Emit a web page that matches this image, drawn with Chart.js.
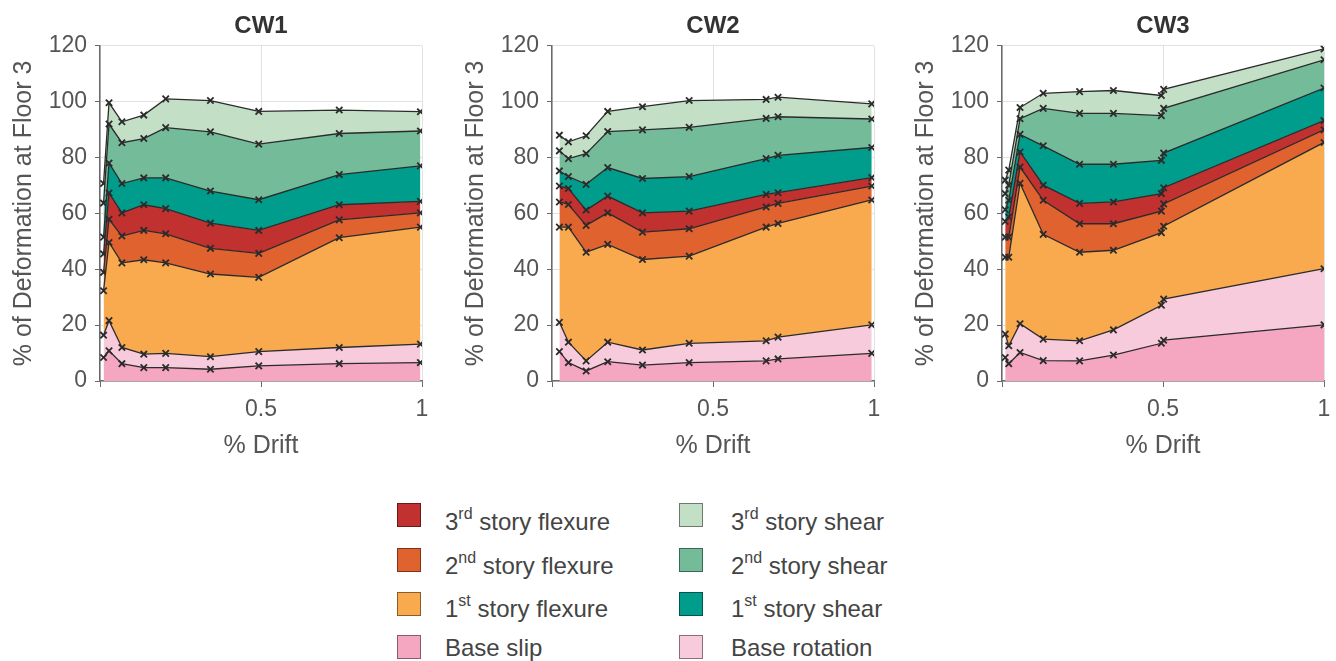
<!DOCTYPE html>
<html>
<head>
<meta charset="utf-8">
<title>Deformation components at Floor 3</title>
<script src="https://cdn.jsdelivr.net/npm/chart.js@4.4.1/dist/chart.umd.min.js"></script>
<style>
  html, body { margin: 0; padding: 0; background: #fff; }
  body { width: 1336px; height: 661px; overflow: hidden; position: relative;
         font-family: "Liberation Sans", Arial, sans-serif; }
  canvas.panel { position: absolute; top: 0; }
  .swatch { position: absolute; width: 24px; height: 24px; box-sizing: border-box;
            border: 1px solid rgba(0,0,0,0.45); }
  .label { position: absolute; font-size: 24px; color: #444; white-space: nowrap;
           line-height: 28px; }
  .label sup { font-size: 16px; line-height: 0; position: relative; top: -2px; }
</style>
</head>
<body>
<canvas class="panel" id="cw1" width="440" height="470" style="left:0px"></canvas>
<canvas class="panel" id="cw2" width="440" height="470" style="left:452px"></canvas>
<canvas class="panel" id="cw3" width="440" height="470" style="left:902px"></canvas>
<div id="legend"></div>

<script>
// Deformation components, bottom of the stack first
const componentNames = [
  'Base slip', 'Base rotation',
  '1st story flexure', '2nd story flexure', '3rd story flexure',
  '1st story shear', '2nd story shear', '3rd story shear'
];
const componentLegendText = [
  'Base slip', 'Base rotation',
  '1<sup>st</sup> story flexure', '2<sup>nd</sup> story flexure', '3<sup>rd</sup> story flexure',
  '1<sup>st</sup> story shear', '2<sup>nd</sup> story shear', '3<sup>rd</sup> story shear'
];
const componentColors = [
  '#f5a6c1', '#f7cbdc',
  '#f9a94e', '#e0622f', '#c0312f',
  '#009c8c', '#74bb9a', '#c3dfc5'
];

// CW1: % drift and contribution of each component (%)
const cw1Drift          = [0.011, 0.028, 0.068, 0.136, 0.204, 0.343, 0.493, 0.743, 0.995];
const cw1BaseSlip       = [8.4, 10.8, 6.2, 4.8, 4.8, 4.2, 5.4, 6.2, 6.6];
const cw1BaseRotation   = [8.0, 10.8, 5.8, 4.8, 5.1, 4.5, 5.1, 5.8, 6.6];
const cw1Flexure1       = [15.9, 28.0, 30.3, 33.8, 32.4, 29.6, 26.6, 39.3, 41.9];
const cw1Flexure2       = [6.6, 8.3, 9.6, 10.5, 10.4, 9.2, 8.6, 6.4, 5.1];
const cw1Flexure3       = [6.6, 9.4, 8.3, 9.2, 9.0, 9.0, 8.2, 5.4, 4.1];
const cw1Shear1         = [6.0, 10.7, 10.5, 9.6, 11.0, 11.5, 11.0, 10.8, 12.7];
const cw1Shear2         = [12.2, 14.0, 14.6, 14.1, 18.0, 21.2, 19.9, 14.7, 12.5];
const cw1Shear3         = [7.0, 7.6, 7.5, 8.4, 10.3, 11.2, 11.7, 8.4, 6.9];

// CW2
const cw2Drift          = [0.023, 0.051, 0.106, 0.173, 0.281, 0.426, 0.665, 0.702, 0.993];
const cw2BaseSlip       = [10.5, 6.6, 3.6, 6.9, 5.7, 6.6, 7.2, 7.9, 9.9];
const cw2BaseRotation   = [10.5, 7.3, 3.6, 7.0, 5.4, 6.9, 7.2, 7.8, 10.2];
const cw2Flexure1       = [34.1, 41.2, 38.9, 35.0, 32.4, 31.2, 40.7, 40.7, 44.7];
const cw2Flexure2       = [9.0, 8.1, 9.6, 11.3, 9.8, 9.8, 7.2, 7.2, 5.0];
const cw2Flexure3       = [5.7, 5.7, 5.5, 6.0, 6.9, 6.3, 4.5, 3.8, 3.0];
const cw2Shear1         = [5.4, 4.3, 9.2, 10.2, 12.3, 12.4, 12.8, 13.4, 10.8];
const cw2Shear2         = [7.2, 6.4, 11.0, 12.9, 17.4, 17.6, 14.4, 13.8, 10.2];
const cw2Shear3         = [5.6, 6.0, 6.4, 7.2, 8.3, 9.6, 6.8, 7.0, 5.4];

// CW3
const cw3Drift          = [0.010, 0.021, 0.056, 0.128, 0.241, 0.346, 0.495, 0.502, 1.0];
const cw3BaseSlip       = [8.4, 6.2, 10.2, 7.3, 7.2, 9.3, 13.5, 14.6, 20.1];
const cw3BaseRotation   = [8.4, 6.4, 10.3, 7.7, 7.2, 9.0, 13.6, 14.7, 20.1];
const cw3Flexure1       = [27.5, 31.7, 50.3, 37.5, 31.7, 28.5, 26.0, 26.1, 45.2];
const cw3Flexure2       = [7.2, 7.2, 5.8, 12.2, 10.2, 9.5, 7.7, 8.0, 4.5];
const cw3Flexure3       = [5.6, 7.2, 5.4, 5.4, 7.3, 7.8, 6.3, 5.8, 3.3];
const cw3Shear1         = [4.2, 6.0, 6.3, 14.1, 14.0, 13.5, 11.9, 12.4, 11.7];
const cw3Shear2         = [5.8, 5.4, 5.6, 13.4, 18.2, 18.2, 16.0, 16.0, 10.1];
const cw3Shear3         = [4.8, 5.4, 4.0, 5.4, 7.8, 8.2, 7.2, 6.8, 3.9];

const yTicks = [0, 20, 40, 60, 80, 100, 120];
const xTicks = [0.5, 1];

const FONT = '"Liberation Sans", Arial, sans-serif';
const INK = '#2b2b2b';
const AXIS = '#6a6a6a';
const TEXT = '#555';

function buildDatasets(drift, components) {
  return components.map((values, k) => ({
    label: componentNames[k],
    data: drift.map((x, i) => ({ x: x, y: values[i] })),
    backgroundColor: componentColors[k],
    borderColor: INK,
    borderWidth: 1.3,
    fill: k === 0 ? 'origin' : '-1',
    pointStyle: 'crossRot',
    pointRadius: 4.5,
    pointBorderWidth: 1.8,
    pointBorderColor: INK,
    pointBackgroundColor: INK,
    tension: 0
  }));
}

function drawPanel(id, title, drift, components) {
  new Chart(document.getElementById(id), {
    type: 'line',
    data: { datasets: buildDatasets(drift, components) },
    options: {
      responsive: false,
      animation: false,
      events: [],
      layout: { padding: { left: 0, right: 18, top: 0, bottom: 0 } },
      plugins: {
        legend: { display: false },
        tooltip: { enabled: false },
        title: {
          display: true, text: title, fullSize: false, color: '#333',
          font: { family: FONT, size: 24, weight: 'bold' },
          padding: { top: 12, bottom: 5 }
        }
      },
      scales: {
        x: {
          type: 'linear', min: 0, max: 1, z: 1,
          afterBuildTicks: s => { s.ticks = [0].concat(xTicks).map(v => ({ value: v })); },
          afterFit: s => { s.height = 89; },
          ticks: {
            color: TEXT, font: { family: FONT, size: 23 }, padding: 9,
            maxRotation: 0, autoSkip: false,
            callback: v => (v === 0 ? '' : String(v))
          },
          grid: { color: 'rgba(150,150,150,0.28)', lineWidth: 1, tickColor: AXIS, tickLength: 6 },
          border: { color: AXIS, width: 1.5 },
          title: {
            display: true, text: '% Drift', color: TEXT,
            font: { family: FONT, size: 25 }, padding: { top: 0, bottom: 9 }
          }
        },
        y: {
          stacked: true, min: 0, max: 120, z: 1,
          afterBuildTicks: s => { s.ticks = yTicks.map(v => ({ value: v })); },
          afterFit: s => { s.width = 100; },
          ticks: {
            color: TEXT, font: { family: FONT, size: 23 }, padding: 8,
            callback: v => String(v)
          },
          grid: { color: 'rgba(150,150,150,0.28)', lineWidth: 1, tickColor: AXIS, tickLength: 5 },
          border: { color: AXIS, width: 1.5 },
          title: {
            display: true, text: '% of Deformation at Floor 3', color: TEXT,
            font: { family: FONT, size: 25 }, padding: { top: 9, bottom: 0 }
          }
        }
      }
    }
  });
}

drawPanel('cw1', 'CW1', cw1Drift,
  [cw1BaseSlip, cw1BaseRotation, cw1Flexure1, cw1Flexure2, cw1Flexure3, cw1Shear1, cw1Shear2, cw1Shear3]);
drawPanel('cw2', 'CW2', cw2Drift,
  [cw2BaseSlip, cw2BaseRotation, cw2Flexure1, cw2Flexure2, cw2Flexure3, cw2Shear1, cw2Shear2, cw2Shear3]);
drawPanel('cw3', 'CW3', cw3Drift,
  [cw3BaseSlip, cw3BaseRotation, cw3Flexure1, cw3Flexure2, cw3Flexure3, cw3Shear1, cw3Shear2, cw3Shear3]);

// Legend: flexure components on the left, shear components on the right
const legendColumns = [
  [4, 3, 2, 0],
  [7, 6, 5, 1]
];
const swatchLeft = [397, 679];
const labelLeft = [445, 731];
const swatchTops = [503, 548, 592, 635];
const labelTops = [508, 552, 595, 634];
const legendBox = document.getElementById('legend');
legendColumns.forEach((col, c) => {
  col.forEach((k, r) => {
    const sw = document.createElement('div');
    sw.className = 'swatch';
    sw.style.left = swatchLeft[c] + 'px';
    sw.style.top = swatchTops[r] + 'px';
    sw.style.background = componentColors[k];
    const lb = document.createElement('div');
    lb.className = 'label';
    lb.style.left = labelLeft[c] + 'px';
    lb.style.top = labelTops[r] + 'px';
    lb.innerHTML = componentLegendText[k];
    legendBox.appendChild(sw);
    legendBox.appendChild(lb);
  });
});
</script>
</body>
</html>
